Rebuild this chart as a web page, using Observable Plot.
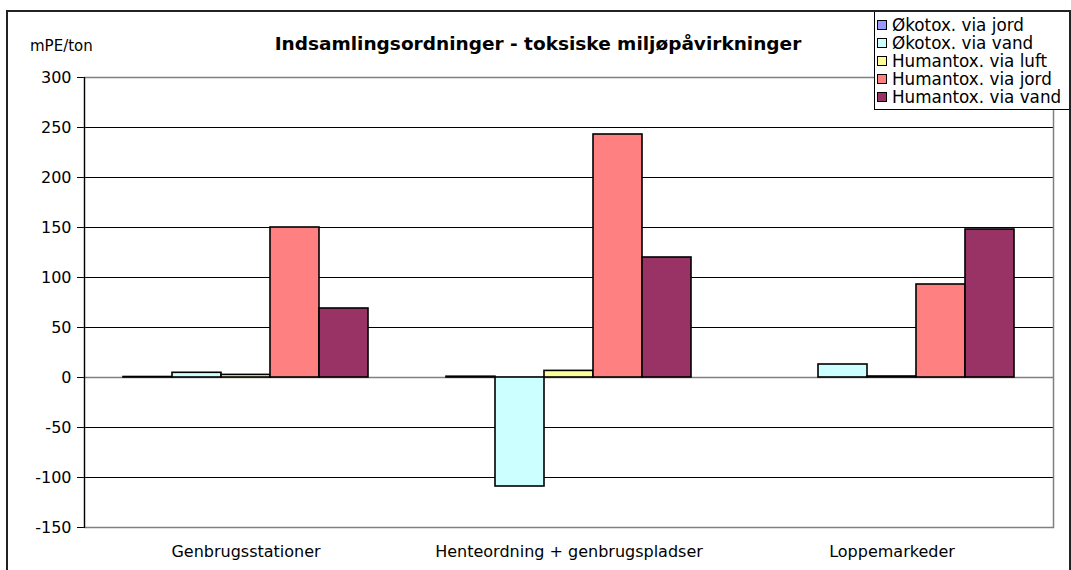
<!DOCTYPE html>
<html>
<head>
<meta charset="utf-8">
<script src="https://cdn.jsdelivr.net/npm/d3@7"></script>
<script src="https://cdn.jsdelivr.net/npm/@observablehq/plot@0.6"></script>
<style>
  html, body { margin: 0; padding: 0; background: #fff; }
  #wrap { position: relative; width: 1071px; height: 570px; overflow: hidden; font-family: "DejaVu Sans", "Liberation Sans", Arial, sans-serif; }
  #border { position: absolute; left: 6px; top: 10px; width: 1065px; height: 600px; border: 2px solid #222; box-sizing: border-box; pointer-events: none; }
  #chart { position: absolute; left: 0; top: 0; }
  #title { position: absolute; left: 0; width: 1076px; top: 33px; text-align: center; font-weight: bold; font-size: 18.5px; color: #000; }
  #ylab { position: absolute; left: 30px; top: 37px; font-size: 15px; color: #000; }
  #legend { position: absolute; left: 874px; top: 10px; width: 196px; height: 100px; border: 1px solid #000; box-sizing: border-box; background: #fff; padding-top: 5px; }
  .item { display: flex; align-items: center; height: 18px; font-size: 16.8px; color: #000; white-space: nowrap; }
  .sw { width: 8px; height: 8px; border: 1px solid #000; margin-left: 2px; margin-right: 5px; flex: none; }
</style>
</head>
<body>
<div id="wrap">
  <div id="chart"></div>
  <div id="title"></div>
  <div id="ylab"></div>
  <div id="legend"></div>
  <div id="border"></div>
</div>
<script>
const chartTitle = "Indsamlingsordninger - toksiske miljøpåvirkninger";
const yLabel = "mPE/ton";
const categories = ["Genbrugsstationer", "Henteordning + genbrugspladser", "Loppemarkeder"];
const series = ["Økotox. via jord", "Økotox. via vand", "Humantox. via luft", "Humantox. via jord", "Humantox. via vand"];
const seriesColors = ["#9999FF", "#CCFFFF", "#FFFF99", "#FF8080", "#993366"];
const okotoxJord = [0.5, 0.8, 0];
const okotoxVand = [4.7, -109, 13];
const humantoxLuft = [2.6, 6.6, 1];
const humantoxJord = [150, 243, 93];
const humantoxVand = [69, 120, 148];
const yTicks = [-150, -100, -50, 0, 50, 100, 150, 200, 250, 300];

const valuesBySeries = [okotoxJord, okotoxVand, humantoxLuft, humantoxJord, humantoxVand];
const rows = [];
categories.forEach((c, i) => {
  series.forEach((s, j) => {
    rows.push({category: c, series: s, value: valuesBySeries[j][i]});
  });
});
const gridBlack = yTicks.filter(t => t !== 0 && t !== yTicks[0] && t !== yTicks[yTicks.length - 1]);

const plot = Plot.plot({
  width: 1071,
  height: 570,
  marginTop: 77,
  marginBottom: 43,
  marginLeft: 83,
  marginRight: 17,
  style: {fontFamily: "DejaVu Sans, Liberation Sans, Arial, sans-serif", fontSize: "16px", background: "transparent", color: "#000"},
  fx: {domain: categories, padding: 0, label: null, tickSize: 0, tickPadding: 18},
  x: {domain: series, paddingInner: 0, paddingOuter: 0.74, axis: null},
  y: {domain: [-150, 300], ticks: yTicks, tickSize: 7, tickPadding: 6, tickFormat: d => String(d), label: null},
  color: {domain: series, range: seriesColors},
  marks: [
    Plot.ruleY(gridBlack, {stroke: "#000", strokeWidth: 1}),
    Plot.ruleY([0], {stroke: "#808080", strokeWidth: 1.5}),
    Plot.barY(rows, {fx: "category", x: "series", y: "value", fill: "series", stroke: "#000", strokeWidth: 1.6, filter: d => d.value !== 0}),
    Plot.frame({stroke: "#808080", strokeWidth: 1.5, facet: "super"}),
    Plot.frame({anchor: "left", stroke: "#000", strokeWidth: 1.2, facet: "super"})
  ]
});
document.getElementById("chart").appendChild(plot);
document.getElementById("title").textContent = chartTitle;
document.getElementById("ylab").textContent = yLabel;
const leg = document.getElementById("legend");
series.forEach((s, j) => {
  const it = document.createElement("div");
  it.className = "item";
  const sw = document.createElement("span");
  sw.className = "sw";
  sw.style.background = seriesColors[j];
  const t = document.createElement("span");
  t.textContent = s;
  it.appendChild(sw); it.appendChild(t);
  leg.appendChild(it);
});
</script>
</body>
</html>
